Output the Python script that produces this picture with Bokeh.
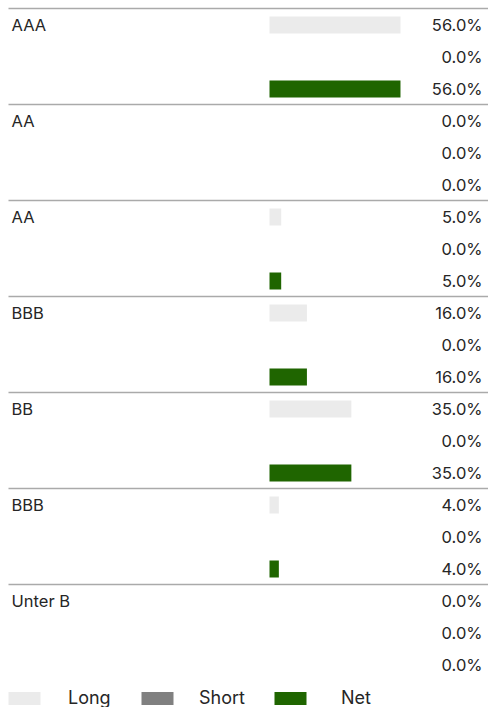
from bokeh.plotting import figure
from bokeh.models import Range1d, ColumnDataSource, Legend, LegendItem
from bokeh.embed import file_html
from bokeh.resources import INLINE
from bokeh.core.properties import value

# ---- data ----
categories = ["AAA", "AA", "AA", "BBB", "BB", "BBB", "Unter B"]
long_vals = [56.0, 0.0, 5.0, 16.0, 35.0, 4.0, 0.0]
short_vals = [0.0, 0.0, 0.0, 0.0, 0.0, 0.0, 0.0]
net_vals = [56.0, 0.0, 5.0, 16.0, 35.0, 4.0, 0.0]
series_names = ["Long", "Short", "Net"]
series_colors = ["#ebebeb", "#808080", "#1f6500"]

# ---- layout constants ----
W, H = 488, 707
ROW_PX = 32.0
FIRST_ROW_PX = 24.5
ZERO_PX = 269.0
PX_PER_PCT = 2.339
FONT = "Inter"
TEXT_COLOR = "#262626"
LEGEND_X = [4, 137, 270]          # legend box lefts (px)
LEGEND_STANDOFF = [24, 22, 31]    # gap between swatch area and label (px)

def px_to_x(px):
    return (px - ZERO_PX) / PX_PER_PCT

def px_to_row(py):
    return (py - FIRST_ROW_PX) / ROW_PX

p = figure(width=W, height=H, output_backend="svg", toolbar_location=None,
           x_range=Range1d(px_to_x(0), px_to_x(W)),
           y_range=Range1d(px_to_row(H), px_to_row(0)),
           min_border=0, outline_line_color=None)
p.axis.visible = False
p.grid.visible = False
p.background_fill_color = "white"
p.border_fill_color = "white"

all_series = [long_vals, short_vals, net_vals]
lab_y, lab_text = [], []
renderers = []
for si, vals in enumerate(all_series):
    ys = [3 * g + si for g in range(len(categories))]
    src = ColumnDataSource(dict(y=ys, right=vals))
    r = p.hbar(y="y", left=0, right="right", height=17 / ROW_PX, source=src,
               fill_color=series_colors[si], line_color=None)
    renderers.append(r)
    for g, v in enumerate(vals):
        lab_y.append(3 * g + si)
        lab_text.append(f"{v:.1f}%")

# value labels
p.text(x=[px_to_x(482)] * len(lab_y), y=lab_y, text=lab_text,
       text_align="right", text_baseline="middle", text_font=value(FONT),
       text_font_size="16.5px", text_color=TEXT_COLOR)

# category labels
p.text(x=[px_to_x(11)] * len(categories), y=[3 * g for g in range(len(categories))],
       text=categories, text_align="left", text_baseline="middle",
       text_font=value(FONT), text_font_size="16.5px", text_color=TEXT_COLOR)

# group separators
sep_y = [px_to_row(8) + 3 * g for g in range(len(categories))]
p.segment(x0=[px_to_x(8)] * len(sep_y), x1=[px_to_x(W)] * len(sep_y),
          y0=sep_y, y1=sep_y, line_color="#aaaaaa", line_width=1.5)

for name, r, lx, so in zip(series_names, renderers, LEGEND_X, LEGEND_STANDOFF):
    legend = Legend(items=[LegendItem(label=name, renderers=[r])],
                    orientation="horizontal", location=(lx, -1),
                    glyph_width=40, glyph_height=16, label_standoff=so,
                    spacing=0, padding=0, margin=0,
                    border_line_alpha=0, background_fill_alpha=0,
                    label_text_font=FONT, label_text_font_size="18px",
                    label_text_color=TEXT_COLOR)
    p.add_layout(legend, "center")

open("out.html", "w").write(file_html(p, INLINE))
